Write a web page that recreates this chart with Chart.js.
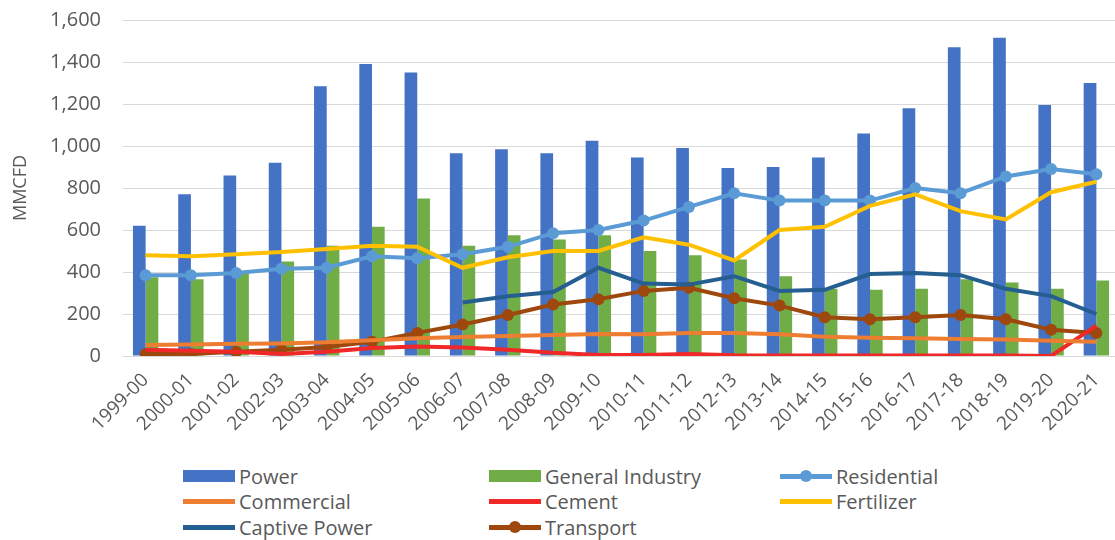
<!DOCTYPE html>
<html>
<head>
<meta charset="utf-8">
<script src="https://cdn.jsdelivr.net/npm/chart.js@4/dist/chart.umd.min.js"></script>
<style>
  body { margin: 0; background: #fff; overflow: hidden; font-family: "Open Sans", sans-serif; }
  #wrap { position: relative; width: 1115px; height: 540px; overflow: hidden; }
  #chart { position: absolute; left: 0; top: 0; }
  .item { position: absolute; height: 24px; display: flex; align-items: center; color: #595959; font-size: 20px; white-space: nowrap; }
  .sym { position: relative; width: 52px; height: 24px; margin-right: 4px; }
  .sym .bar { position: absolute; left: 0; top: 6px; width: 52px; height: 12px; }
  .sym .ln { position: absolute; left: 0; top: 10px; width: 52px; height: 5px; }
  .sym .dot { position: absolute; left: 20px; top: 6px; width: 12px; height: 12px; border-radius: 50%; }
</style>
</head>
<body>
<div id="wrap">
  <canvas id="chart" width="1125" height="450"></canvas>
  <div id="legend"></div>
</div>
<script>
const years = ['1999-00','2000-01','2001-02','2002-03','2003-04','2004-05','2005-06','2006-07','2007-08','2008-09','2009-10',
  '2010-11','2011-12','2012-13','2013-14','2014-15','2015-16','2016-17','2017-18','2018-19','2019-20','2020-21'];

const power = [620,770,860,920,1285,1390,1350,965,985,965,1025,945,990,895,900,945,1060,1180,1470,1515,1195,1300];
const generalIndustry = [375,365,400,450,525,615,750,525,575,555,575,500,480,460,380,320,315,320,365,350,320,360];
const residential = [385,385,395,415,420,475,465,485,520,585,600,645,710,775,740,740,740,800,775,855,890,865];
const commercial = [52,55,58,60,65,75,84,90,95,100,105,103,110,110,103,92,87,84,81,79,73,68];
const cement = [30,25,20,10,20,38,45,40,30,15,5,5,10,3,2,2,2,2,2,2,0,145];
const fertilizer = [480,475,485,495,510,525,520,420,470,500,500,565,530,455,600,615,715,770,690,650,780,830];
const captivePower = [null,null,null,null,null,null,null,255,285,305,420,345,340,380,310,315,390,395,385,320,285,200];
const transport = [10,10,20,30,43,68,110,150,195,245,270,310,325,275,240,185,175,185,195,175,125,110];

const yTicks = [0,200,400,600,800,1000,1200,1400,1600];

const colors = {
  power: '#4472C4', industry: '#70AD47', residential: '#5B9BD5', commercial: '#ED7D31',
  cement: '#F02828', fertilizer: '#FFC000', captive: '#255E91', transport: '#9E480E'
};

function lineSet(label, data, color, marker) {
  return {
    type: 'line', label, data, borderColor: color, backgroundColor: color,
    borderWidth: 4, fill: false, tension: 0, order: 1,
    pointRadius: marker ? 6 : 0, pointHoverRadius: marker ? 6 : 0, pointBorderWidth: 0
  };
}

new Chart(document.getElementById('chart'), {
  type: 'bar',
  data: {
    labels: years,
    datasets: [
      { label: 'Power', data: power, backgroundColor: colors.power, order: 10, barPercentage: 1, categoryPercentage: 0.56 },
      { label: 'General Industry', data: generalIndustry, backgroundColor: colors.industry, order: 10, barPercentage: 1, categoryPercentage: 0.56 },
      lineSet('Commercial', commercial, colors.commercial, false),
      lineSet('Cement', cement, colors.cement, false),
      lineSet('Captive Power', captivePower, colors.captive, false),
      lineSet('Fertilizer', fertilizer, colors.fertilizer, false),
      lineSet('Transport', transport, colors.transport, true),
      lineSet('Residential', residential, colors.residential, true)
    ]
  },
  options: {
    responsive: false,
    animation: false,
    layout: { padding: { left: 8, top: 20, right: 0, bottom: 0 } },
    plugins: { legend: { display: false }, tooltip: { enabled: false } },
    scales: {
      x: {
        grid: { display: false },
        border: { display: false },
        ticks: { color: '#595959', font: { family: 'Open Sans', size: 19 }, minRotation: 45, maxRotation: 45, autoSkip: false, padding: 5 },
        afterFit: (s) => { s.height = 94; }
      },
      y: {
        min: 0, max: 1600,
        afterBuildTicks: (s) => { s.ticks = yTicks.map(v => ({ value: v })); },
        grid: { color: '#D9D9D9', lineWidth: 1, drawTicks: true, tickLength: 22, tickColor: 'rgba(0,0,0,0)' },
        border: { display: false },
        ticks: { color: '#595959', font: { family: 'Open Sans', size: 20 }, padding: 0 },
        title: { display: true, text: 'MMCFD', color: '#595959', font: { family: 'Open Sans', size: 18 }, padding: { top: 2, bottom: 0 } },
        afterFit: (s) => { s.width = 115; }
      }
    }
  }
});

// legend laid out in three columns like the original
const legendItems = [
  { label: 'Power', color: colors.power, kind: 'bar', x: 183, y: 464 },
  { label: 'General Industry', color: colors.industry, kind: 'bar', x: 489, y: 464 },
  { label: 'Residential', color: colors.residential, kind: 'dot', x: 780, y: 464 },
  { label: 'Commercial', color: colors.commercial, kind: 'line', x: 183, y: 489 },
  { label: 'Cement', color: colors.cement, kind: 'line', x: 489, y: 489 },
  { label: 'Fertilizer', color: colors.fertilizer, kind: 'line', x: 780, y: 489 },
  { label: 'Captive Power', color: colors.captive, kind: 'line', x: 183, y: 515 },
  { label: 'Transport', color: colors.transport, kind: 'dot', x: 489, y: 515 }
];
const legend = document.getElementById('legend');
legendItems.forEach(it => {
  const el = document.createElement('div');
  el.className = 'item';
  el.style.left = it.x + 'px';
  el.style.top = it.y + 'px';
  let sym = '';
  if (it.kind === 'bar') sym = `<span class="bar" style="background:${it.color}"></span>`;
  else sym = `<span class="ln" style="background:${it.color}"></span>` + (it.kind === 'dot' ? `<span class="dot" style="background:${it.color}"></span>` : '');
  el.innerHTML = `<span class="sym">${sym}</span><span>${it.label}</span>`;
  legend.appendChild(el);
});
</script>
</body>
</html>
